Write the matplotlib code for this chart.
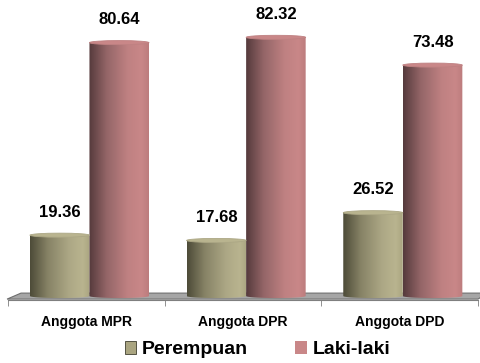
import numpy as np
from matplotlib import pyplot as plt
from matplotlib import patches
from matplotlib.path import Path
from matplotlib.colors import LinearSegmentedColormap

categories = ["Anggota MPR", "Anggota DPR", "Anggota DPD"]
perempuan = [19.36, 17.68, 26.52]
laki_laki = [80.64, 82.32, 73.48]
series_names = ["Perempuan", "Laki-laki"]

plt.rcParams['font.family'] = ['Liberation Sans', 'DejaVu Sans']
plt.rcParams['font.weight'] = 'bold'

OLIVE = ['#4d4b38', '#878366', '#aca785', '#b9b48f', '#aaa581']
PINK = ['#553a3c', '#956668', '#bf8182', '#c98788', '#bc7c7d']

fig = plt.figure(figsize=(4.81, 3.63), dpi=100)
ax = fig.add_axes([8 / 481, 63 / 363, 470 / 481, 300 / 363])
ax.set_xlim(-0.5, 2.5)
ax.set_ylim(-1.27, 94.2)

# grey floor
floor = patches.Polygon([(13 / 470, 0.023), (1.02, 0.023), (1.0, 0.003), (-0.002, 0.003)],
                        closed=True, transform=ax.transAxes, facecolor='#a6a6a6',
                        edgecolor='#6e6e6e', linewidth=0.8, zorder=1, clip_on=False)
ax.add_patch(floor)

x = np.arange(len(categories))
width = 0.38
ell_h = 1.3  # ellipse height in data units


def cylinder(bar, colors):
    x0 = bar.get_x()
    w = bar.get_width()
    h = bar.get_height()
    x1 = x0 + w
    t = np.linspace(np.pi, 2 * np.pi, 40)
    bottom = [(x0 + w / 2 + w / 2 * np.cos(a), ell_h / 2 * np.sin(a)) for a in t]
    verts = [(x0, h)] + [(x0, 0)] + bottom + [(x1, 0), (x1, h), (x0, h)]
    path = Path(verts, closed=True)
    clip = patches.PathPatch(path, transform=ax.transData, facecolor='none', edgecolor='none')
    ax.add_patch(clip)
    cmap = LinearSegmentedColormap.from_list('c', list(zip([0, 0.3, 0.65, 0.88, 1.0], colors)))
    grad = np.linspace(0, 1, 256).reshape(1, -1)
    im = ax.imshow(grad, cmap=cmap, aspect='auto', extent=(x0, x1, -ell_h, h),
                   zorder=3, interpolation='bilinear')
    im.set_clip_path(clip)
    top = patches.Ellipse((x0 + w / 2, h), w, ell_h, facecolor=colors[3],
                          edgecolor=colors[2], linewidth=0.6, zorder=4)
    ax.add_patch(top)
    ax.annotate(f"{h:.2f}", (x0 + w / 2, h), xytext=(0, 11), textcoords='offset points',
                ha='center', va='bottom', fontsize=12, fontweight='bold', color='black')


bars_p = ax.bar(x - 0.17, perempuan, width, color='none', zorder=2)
bars_l = ax.bar(x + 0.21, laki_laki, width, color='none', zorder=2)
for b in bars_p:
    cylinder(b, OLIVE)
for b in bars_l:
    cylinder(b, PINK)

ax.set_xlim(-0.5, 2.5)
for s in ['top', 'left', 'right']:
    ax.spines[s].set_visible(False)
ax.spines['bottom'].set_color('#7f7f7f')
ax.set_yticks([])
ax.set_xticks(x)
ax.set_xticklabels(categories, fontsize=10, fontweight='bold')
ax.tick_params(axis='x', which='major', length=0, pad=11)
ax.set_xticks([-0.5, 0.5, 1.5, 2.5], minor=True)
ax.tick_params(axis='x', which='minor', length=4, color='#7f7f7f', direction='out')

handles = [patches.Patch(facecolor='#aaa581', edgecolor='#404030', linewidth=0.6),
           patches.Patch(facecolor='#c98788', edgecolor='none')]
fig.legend(handles, series_names, loc='lower center', bbox_to_anchor=(0.535, -0.035), ncol=2,
           frameon=False, handlelength=0.6, handleheight=0.6,
           handletextpad=0.3, columnspacing=2.4, prop={'weight': 'bold', 'size': 14})

fig.savefig('out.png', dpi=100)
